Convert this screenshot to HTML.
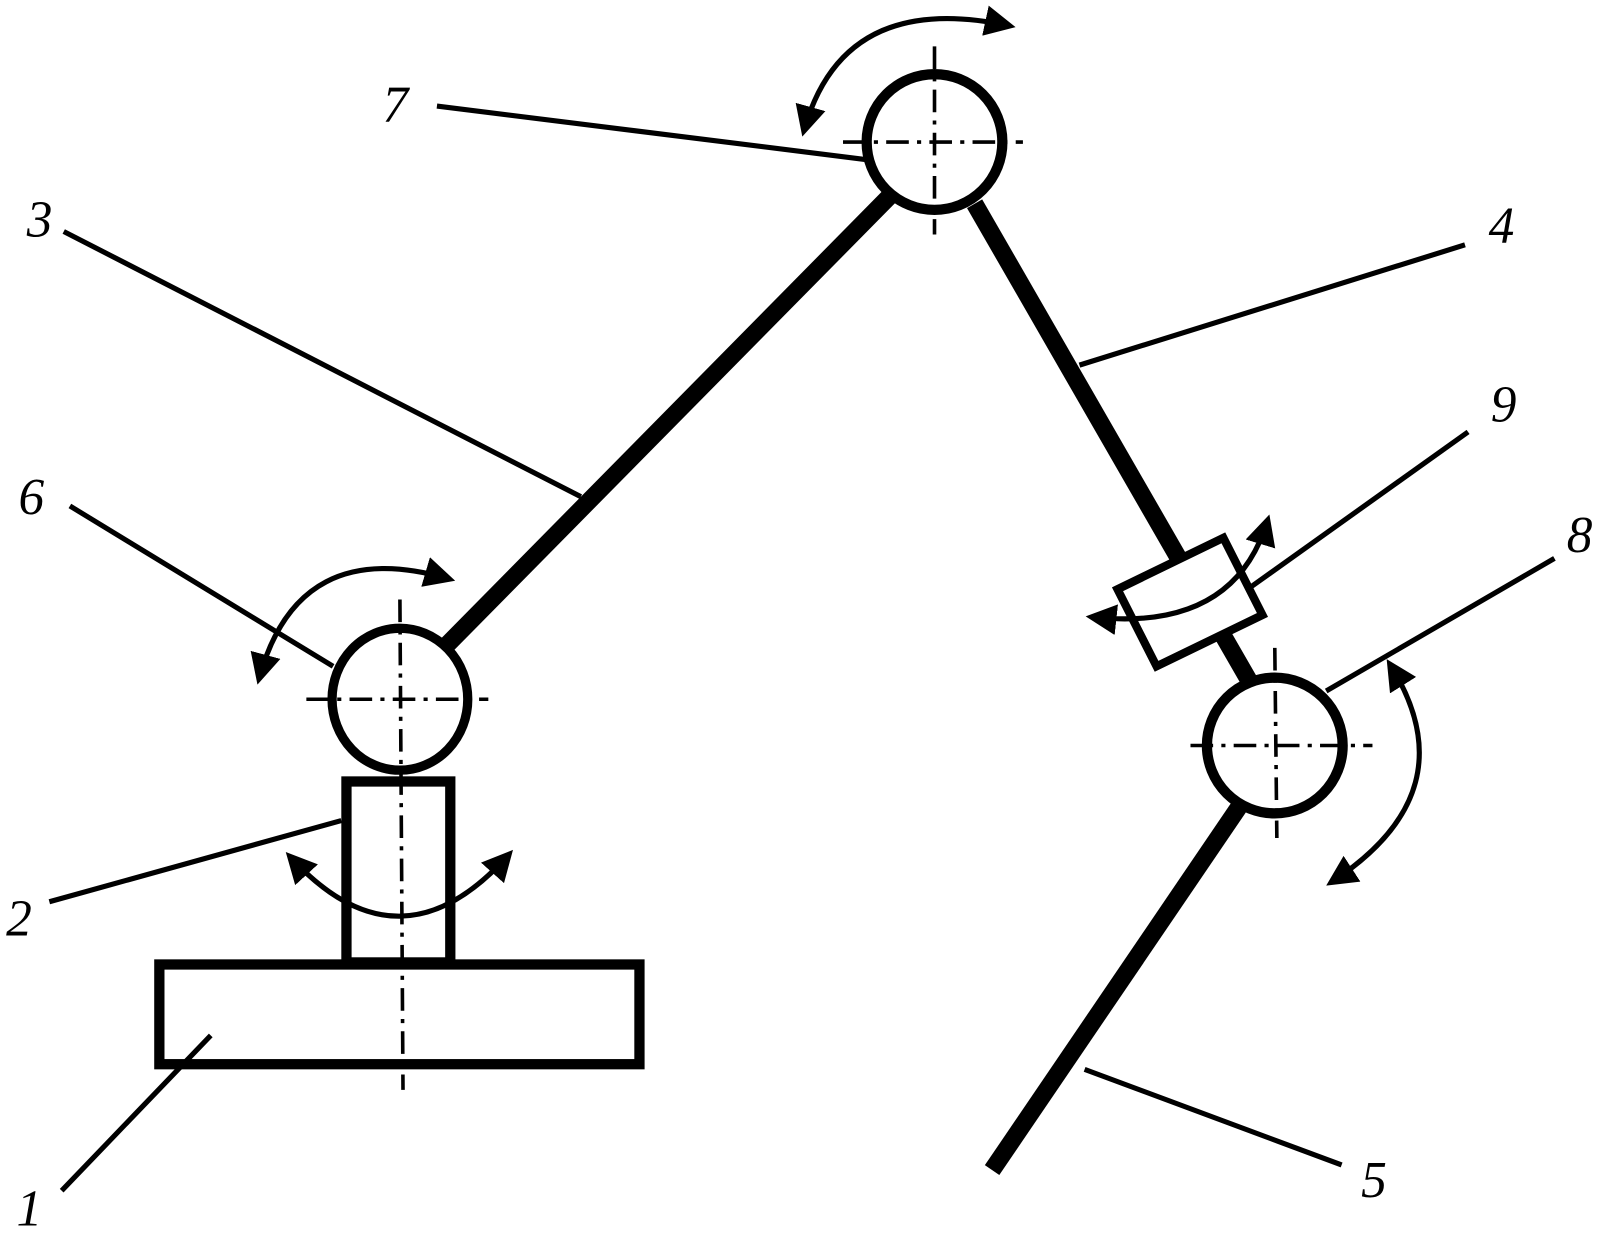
<!DOCTYPE html>
<html><head><meta charset="utf-8"><style>
html,body{margin:0;padding:0;background:#fff;}
svg{display:block;}
text{font-family:"Liberation Serif",serif;font-style:italic;font-size:50px;fill:#000;}
</style></head><body>
<svg width="1612" height="1234" viewBox="0 0 1568 1200" xmlns="http://www.w3.org/2000/svg">
<defs>
<marker id="ah" viewBox="0 0 10 10" refX="8" refY="5" markerWidth="6" markerHeight="6" orient="auto-start-reverse" markerUnits="strokeWidth">
<path d="M0,0 L10,5 L0,10 Z" fill="#000"/></marker>
</defs>
<g stroke="#000" fill="none">
<!-- links -->
<g stroke-width="17">
<line x1="430" y1="632" x2="868" y2="188"/>
<line x1="948" y1="198" x2="1215" y2="662"/>
<line x1="1205" y1="785" x2="965" y2="1138"/>
</g>
<!-- base -->
<rect x="155" y="938" width="467" height="97" stroke-width="10" fill="#fff"/>
<rect x="337" y="760" width="101" height="176" stroke-width="10" fill="#fff"/>
<!-- joints -->
<ellipse cx="389" cy="680" rx="66" ry="69" stroke-width="9" fill="#fff"/>
<circle cx="909" cy="138" r="66" stroke-width="10" fill="#fff"/>
<circle cx="1240" cy="725" r="66" stroke-width="10" fill="#fff"/>
<!-- box 9 -->
<polygon points="1087,573 1190,523 1228,598 1125,648" stroke-width="8" fill="#fff"/>
<!-- centerlines -->
<g stroke-width="3.5" stroke-dasharray="22,8,4,8">
<line x1="298" y1="680" x2="475" y2="680"/>
<line x1="389" y1="583" x2="392" y2="1060"/>
<line x1="820" y1="138" x2="995" y2="138"/>
<line x1="909" y1="45" x2="909" y2="228"/>
<line x1="1158" y1="725" x2="1335" y2="725"/>
<line x1="1240" y1="630" x2="1242" y2="815"/>
</g>
<!-- leaders -->
<g stroke-width="5">
<line x1="425" y1="103" x2="842" y2="155"/>
<line x1="62" y1="225" x2="565" y2="483"/>
<line x1="1425" y1="238" x2="1050" y2="355"/>
<line x1="1428" y1="420" x2="1215" y2="572"/>
<line x1="68" y1="492" x2="324" y2="648"/>
<line x1="1512" y1="543" x2="1290" y2="672"/>
<line x1="48" y1="877" x2="332" y2="798"/>
<line x1="60" y1="1158" x2="205" y2="1007"/>
<line x1="1305" y1="1133" x2="1055" y2="1040"/>
</g>
<!-- arrows -->
<g stroke-width="5">
<path d="M252,660 Q290,520 437,563" marker-start="url(#ah)" marker-end="url(#ah)"/>
<path d="M782,127 Q820,-10 982,25" marker-start="url(#ah)" marker-end="url(#ah)"/>
<path d="M282,833 Q389,950 495,831" marker-start="url(#ah)" marker-end="url(#ah)"/>
<path d="M1062,600 Q1200,615 1233,506" marker-start="url(#ah)" marker-end="url(#ah)"/>
<path d="M1352,646 Q1430,770 1295,858" marker-start="url(#ah)" marker-end="url(#ah)"/>
</g>
</g>
<text x="372" y="118">7</text>
<text x="26" y="230">3</text>
<text x="1448" y="236">4</text>
<text x="1450" y="410">9</text>
<text x="18" y="500">6</text>
<text x="1524" y="537">8</text>
<text x="6" y="910">2</text>
<text x="16" y="1192">1</text>
<text x="1324" y="1164">5</text>
</svg>
</body></html>
